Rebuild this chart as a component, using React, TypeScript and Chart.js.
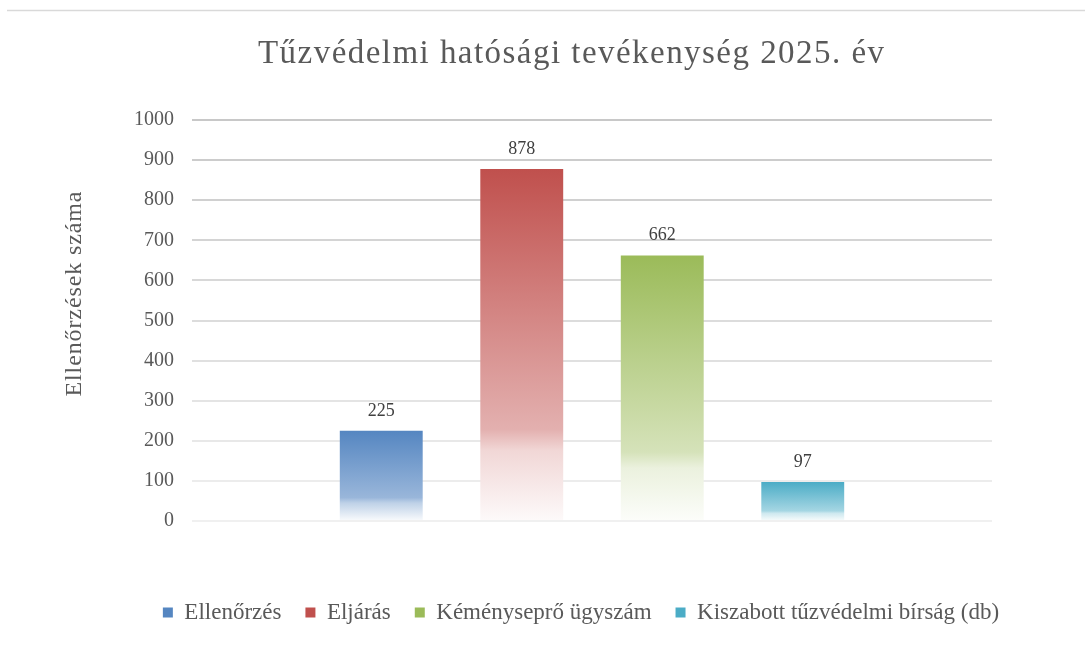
import React, { useEffect, useRef } from "react";
import { Chart, registerables } from "chart.js";

Chart.register(...registerables);

const chartTitle = "Tűzvédelmi hatósági tevékenység 2025. év";
const yAxisTitle = "Ellenőrzések száma";
const categories = [""];
const seriesNames = ["Ellenőrzés", "Eljárás", "Kéményseprő ügyszám", "Kiszabott tűzvédelmi bírság (db)"];
const seriesValues = [225, 878, 662, 97];
const seriesColors = ["#5586C1", "#C0504D", "#9BBB59", "#4BACC6"];
const seriesFade = [0.4, 0.55, 0.58, 0.5];
const yMin = 0;
const yMax = 1000;
const yStep = 100;

const SERIF = "'Liberation Serif', 'Times New Roman', serif";

function hexToRgb(hex: string) {
  const h = hex.replace("#", "");
  return [parseInt(h.slice(0, 2), 16), parseInt(h.slice(2, 4), 16), parseInt(h.slice(4, 6), 16)];
}
function mix(hex: string, t: number) {
  const [r, g, b] = hexToRgb(hex);
  const m = (c: number) => Math.round(c + (255 - c) * t);
  return `rgb(${m(r)},${m(g)},${m(b)})`;
}

function drawSpaced(ctx: any, text: string, target: number) {
  ctx.letterSpacing = "0px";
  const w = ctx.measureText(text).width;
  const n = [...text].length;
  const ls = Math.max(0, (target - w) / (n - 1));
  ctx.letterSpacing = `${ls}px`;
}

const decorPlugin = {
  id: "decor",
  beforeDraw(chart: any) {
    const ctx = chart.ctx;
    ctx.save();
    ctx.strokeStyle = "#D9D9D9";
    ctx.lineWidth = 1.5;
    ctx.beginPath();
    ctx.moveTo(7, 10.5);
    ctx.lineTo(1085, 10.5);
    ctx.stroke();
    ctx.restore();
  },
  afterDraw(chart: any) {
    const ctx = chart.ctx;
    ctx.save();
    // title
    ctx.font = `33px ${SERIF}`;
    ctx.fillStyle = "#595959";
    ctx.textBaseline = "middle";
    ctx.textAlign = "left";
    const target = 626;
    drawSpaced(ctx, chartTitle, target);
    ctx.fillText(chartTitle, 571 - target / 2, 54);
    // y axis title
    ctx.font = `24px ${SERIF}`;
    const target2 = 205;
    drawSpaced(ctx, yAxisTitle, target2);
    ctx.translate(75, 294);
    ctx.rotate(-Math.PI / 2);
    ctx.fillText(yAxisTitle, -target2 / 2, 0);
    ctx.restore();
  },
  afterDatasetsDraw(chart: any) {
    const ctx = chart.ctx;
    ctx.save();
    ctx.font = `18px ${SERIF}`;
    ctx.fillStyle = "#404040";
    ctx.textAlign = "center";
    ctx.textBaseline = "middle";
    chart.data.datasets.forEach((ds: any, i: number) => {
      const meta = chart.getDatasetMeta(i);
      meta.data.forEach((el: any, j: number) => {
        ctx.fillText(String(ds.data[j]), el.x, el.y - 20);
      });
    });
    ctx.restore();
  },
};

export default function App() {
  const ref = useRef<HTMLCanvasElement | null>(null);
  useEffect(() => {
    if (!ref.current) return;
    const datasets = seriesNames.map((name, i) => {
      const color = seriesColors[i];
      const fade = seriesFade[i];
      return {
        label: name,
        data: [seriesValues[i]],
        borderWidth: 0,
        backgroundColor: (c: any) => {
          if (c.type !== "data") return color;
          const chart = c.chart;
          const ys = chart.scales && chart.scales.y;
          if (!ys || !chart.chartArea) return color;
          const top = ys.getPixelForValue(c.raw);
          const base = ys.getPixelForValue(0);
          if (!isFinite(top) || !isFinite(base) || base - top < 1) return color;
          const g = chart.ctx.createLinearGradient(0, top, 0, base);
          g.addColorStop(0, color);
          g.addColorStop(0.74, mix(color, fade));
          g.addColorStop(0.8, mix(color, Math.min(0.9, fade + 0.22)));
          g.addColorStop(1, mix(color, 0.97));
          return g;
        },
      };
    });
    const chart = new Chart(ref.current, {
      type: "bar",
      data: { labels: categories, datasets },
      plugins: [decorPlugin],
      options: {
        responsive: false,
        animation: false,
        layout: { padding: { left: 77, right: 0, top: 120, bottom: 35 } },
        datasets: {
          bar: { categoryPercentage: 0.7025, barPercentage: 0.59 },
        },
        scales: {
          x: {
            display: true,
            grid: { display: false },
            border: { display: false },
            ticks: { display: false },
            afterFit: (s: any) => {
              s.height = 56;
            },
          },
          y: {
            position: "left",
            min: yMin,
            max: yMax,
            ticks: {
              stepSize: yStep,
              color: "#595959",
              font: { family: SERIF, size: 20 },
              padding: 18,
              callback: (v: any) => String(v),
            },
            grid: {
              drawTicks: false,
              lineWidth: 2,
              color: (c: any) => {
                const v = c.tick ? c.tick.value : 0;
                const t = (v - yMin) / (yMax - yMin);
                const lo = 240, hi = 200;
                const g = Math.round(lo + (hi - lo) * t);
                return `rgb(${g},${g},${g})`;
              },
            },
            border: { display: false },
            afterFit: (s: any) => {
              s.width = 115;
            },
          },
          y2: {
            type: "linear",
            position: "right",
            display: true,
            grid: { display: false },
            border: { display: false },
            ticks: { display: false },
            afterFit: (s: any) => {
              s.width = 93;
            },
          },
        },
        plugins: {
          title: { display: false },
          tooltip: { enabled: false },
          legend: {
            display: true,
            position: "bottom",
            labels: {
              boxWidth: 10,
              boxHeight: 10,
              padding: 24,
              color: "#595959",
              font: { family: SERIF, size: 23 },
              generateLabels: (chart: any) =>
                chart.data.datasets.map((ds: any, i: number) => ({
                  text: ds.label,
                  fillStyle: seriesColors[i],
                  strokeStyle: "rgba(0,0,0,0)",
                  lineWidth: 0,
                  hidden: false,
                  datasetIndex: i,
                  fontColor: "#595959",
                })),
            },
          },
        },
      },
    } as any);
    return () => chart.destroy();
  }, []);
  return (
    <div style={{ position: "fixed", left: 0, top: 0, width: 1085, height: 669, background: "#fff" }}>
      <canvas ref={ref} width={1085} height={669} />
    </div>
  );
}
